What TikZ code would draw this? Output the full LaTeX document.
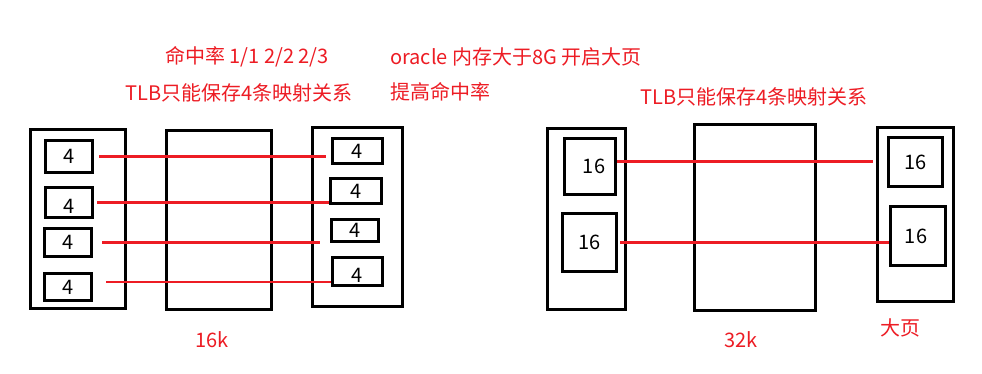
\documentclass[tikz,border=0pt]{standalone}
\usepackage{fontspec}
\setmainfont{Noto Sans CJK SC}
\usepackage{xcolor}
\usepackage{tikz}
\usetikzlibrary{positioning, arrows.meta, calc}
\definecolor{paintred}{RGB}{237,28,36}

\begin{document}
\begin{tikzpicture}[x=1pt, y=-1pt,
			frame/.style={rectangle, draw=black, line width=3pt, inner sep=0pt},
			entry/.style={frame, font=\fontsize{20}{22}\selectfont},
			redline/.style={draw=paintred, line width=2.8pt},
			note/.style={text=paintred, font=\fontsize{20}{24}\selectfont, inner sep=0pt, anchor=west},
			]
			\useasboundingbox[fill=white] (0,0) rectangle (982,374);
			% small pages: tlb, memory, pages
			\node[frame, minimum width=95pt, minimum height=179pt] (ltlb) at (78,219) {};
			\node[frame, minimum width=105pt, minimum height=179pt] (lmem) at (219,220) {};
			\node[frame, minimum width=90pt, minimum height=179pt] (lpage) at (357.5,217) {};
			\node[entry, minimum width=47pt, minimum height=32pt] (la) at (69,156.5) {4};
			\node[entry, minimum width=47pt, minimum height=30pt] (lb) at (69,202.5) {\raisebox{-4pt}[\height][\depth]{4}};
			\node[entry, minimum width=47pt, minimum height=28pt] (lc) at (68,242.5) {4};
			\node[entry, minimum width=47pt, minimum height=27pt] (ld) at (68,287) {4};
			\node[entry, minimum width=50pt, minimum height=25pt] (pa) at (357.5,151) {4};
			\node[entry, minimum width=51pt, minimum height=25pt] (pb) at (356,191) {4};
			\node[entry, minimum width=47pt, minimum height=22pt] (pc) at (355,230.5) {4};
			\node[entry, minimum width=50pt, minimum height=28pt] (pd) at (357.5,271.5) {\raisebox{-4pt}[\height][\depth]{4}};
			\draw[redline, shorten <=5pt, shorten >=5pt] (la.east) -- (la.east -| pa.west);
			\draw[redline, shorten <=3pt] (lb.east) -- (lb.east -| pb.west);
			\draw[redline, shorten <=9pt, shorten >=10pt] (lc.east) -- (lc.east -| pc.west);
			\draw[redline, shorten <=13pt] ([yshift=5pt]ld.east) -- ([yshift=5pt]ld.east -| pd.west);
			% huge pages
			\node[frame, minimum width=78pt, minimum height=181pt] (rtlb) at (586.5,219) {};
			\node[frame, minimum width=121pt, minimum height=186pt] (rmem) at (755,217.5) {};
			\node[frame, minimum width=76pt, minimum height=174pt] (rpage) at (915.5,214.5) {};
			\node[entry, minimum width=51pt, minimum height=56pt] (ha) at (590,166.5) {\hspace{8pt}16};
			\node[entry, minimum width=54pt, minimum height=58pt] (hb) at (589.5,242.5) {16};
			\node[entry, minimum width=54pt, minimum height=49pt] (qa) at (915.5,162) {16};
			\node[entry, minimum width=55pt, minimum height=59pt] (qb) at (918,236) {\hspace{-4pt}16};
			\draw[redline, shorten >=3pt] ([yshift=5pt]ha.east) -- ([yshift=5pt]ha.east -| rpage.west);
			\draw[redline, shorten <=2pt] (hb.east) -- (hb.east -| qb.west);
			% notes
			\node[note] (ratio) at (165,57) {命中率 1/1 2/2 2/3};
			\node[note] (limit) at (125,93) {TLB只能保存4条映射关系};
			\node[note] (oracle) at (390,57) {oracle 内存大于8G 开启大页};
			\node[note] (raise) at (390,92) {提高命中率};
			\node[note] (limitb) at (640,97) {TLB只能保存4条映射关系};
			\node[note, anchor=center] (small) at (212,340) {16k};
			\node[note, anchor=center] (big) at (741,340) {32k};
			\node[note, anchor=center] (huge) at (900,328) {大页};
		\end{tikzpicture}
\end{document}
